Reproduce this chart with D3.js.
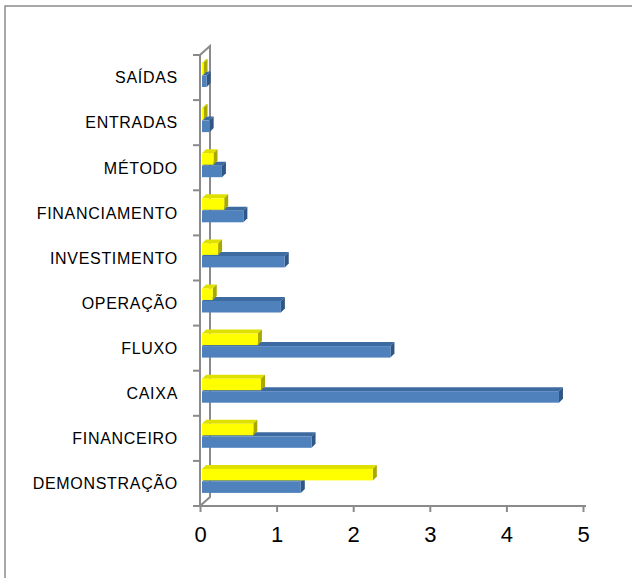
<!DOCTYPE html>
<html>
  <head>
    <meta charset="utf-8">
    <title>Palavras</title>
    <script src="https://d3js.org/d3.v7.min.js"></script>
    <style>
    html, body { margin: 0; padding: 0; background: #fff; }
    svg { display: block; }
    .frame { fill: none; stroke: #8c8c8c; stroke-width: 1.5px; }
    .wall { fill: none; stroke: #8a8a8a; stroke-width: 2px; }
    .cat { font-family: "Liberation Sans", Arial, sans-serif; font-size: 16px; letter-spacing: 0.7px; fill: #000; }
    .xaxis text { font-family: "Liberation Sans", Arial, sans-serif; font-size: 22px; fill: #000; }
    .xaxis path, .xaxis line { stroke: #8a8a8a; stroke-width: 2px; }
    </style>
  </head>
  <body>
    <script>

    // top to bottom, as in the picture
    var categories = ["SAÍDAS", "ENTRADAS", "MÉTODO", "FINANCIAMENTO", "INVESTIMENTO",
                      "OPERAÇÃO", "FLUXO", "CAIXA", "FINANCEIRO", "DEMONSTRAÇÃO"];
    var serieAzul    = [0.06, 0.10, 0.26, 0.54, 1.08, 1.03, 2.46, 4.66, 1.43, 1.29];
    var serieAmarela = [0.02, 0.02, 0.15, 0.29, 0.21, 0.14, 0.73, 0.77, 0.67, 2.23];
    var xTicks = [0, 1, 2, 3, 4, 5];

    var width = 632, height = 578;
    var depth = 10, barDepth = 4, shift = 2;

    var svg = d3.select("body").append("svg")
        .attr("width", width)
        .attr("height", height);

    svg.append("rect").attr("class", "frame")
        .attr("x", 5).attr("y", 6)
        .attr("width", 700).attr("height", 700);

    var x = d3.scaleLinear().domain([0, 5]).range([200, 583]);
    var y = d3.scaleBand().domain(categories).range([55, 506]);

    var x0 = x(0), yTop = y.range()[0], yBot = y.range()[1];

    // walls: front axis, back edge and the two diagonals
    svg.append("path").attr("class", "wall")
        .attr("d", "M" + x0 + "," + yBot + "V" + yTop +
                   "L" + (x0 + depth) + "," + (yTop - 9) +
                   "V" + (yBot - 9) + "L" + x0 + "," + yBot);

    // category ticks on band edges
    var edges = categories.map(function(c) { return y(c); }).concat([yBot]);
    svg.selectAll(".ctick").data(edges).enter().append("line")
        .attr("class", "wall")
        .attr("x1", x0 - 7).attr("x2", x0)
        .attr("y1", function(d) { return d; })
        .attr("y2", function(d) { return d; });

    svg.selectAll(".cat").data(categories).enter().append("text")
        .attr("class", "cat")
        .attr("x", 178)
        .attr("y", function(d) { return y(d) + y.bandwidth() / 2; })
        .attr("dy", "0.36em")
        .attr("text-anchor", "end")
        .text(function(d) { return d; });

    function drawBars(values, off, front, top, side) {
      var g = svg.append("g");
      var bars = g.selectAll("g").data(categories).enter().append("g");
      var h = 11.5;
      bars.each(function(c, i) {
        var b = d3.select(this);
        var xs = x0 + shift, xe = x(values[i]) + shift;
        var yt = y(c) + off, yb = yt + h, d = barDepth;
        b.append("polygon")
          .attr("points", [[xs, yt], [xe, yt], [xe + d, yt - d], [xs + d, yt - d]].join(" "))
          .attr("fill", top);
        b.append("polygon")
          .attr("points", [[xe, yt], [xe + d, yt - d], [xe + d, yb - d], [xe, yb]].join(" "))
          .attr("fill", side);
        b.append("rect")
          .attr("x", xs).attr("y", yt)
          .attr("width", Math.max(0.5, xe - xs)).attr("height", h)
          .attr("fill", front);
      });
    }

    drawBars(serieAzul, 20.5, "#4f81bd", "#3d6aa0", "#2f5685");
    drawBars(serieAmarela, 8, "#ffff00", "#e0e000", "#a8a800");

    svg.append("g").attr("class", "xaxis")
        .attr("transform", "translate(0," + yBot + ")")
        .call(d3.axisBottom(x).tickValues(xTicks).tickSize(6).tickSizeOuter(0).tickPadding(14)
              .tickFormat(d3.format("d")))
        .call(function(g) { g.select(".domain").attr("d", "M" + x0 + ",0H586"); });

    </script>
  </body>
</html>
